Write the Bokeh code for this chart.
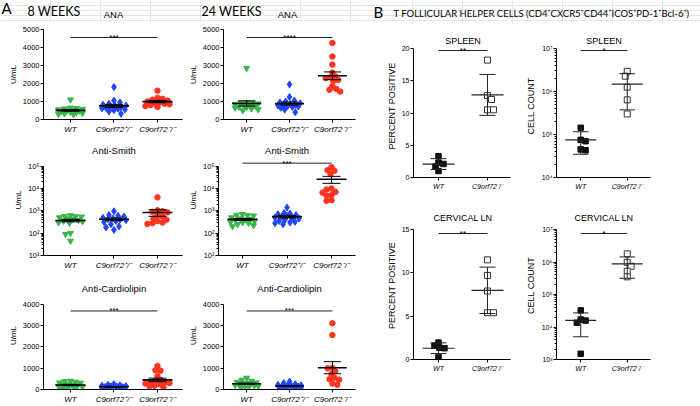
import numpy as np
from bokeh.plotting import figure
from bokeh.models import Range1d, FixedTicker, CustomJSTickFormatter, Label
from bokeh.layouts import row, column
from bokeh.embed import file_html
from bokeh.resources import INLINE

# ------------------------------------------------------------------ data
groups_a = ["WT", "C9orf72\u207a/\u207b", "C9orf72\u207b/\u207b"]
groups_b = ["WT", "C9orf72\u207b/\u207b"]

# 8 weeks ANA (U/mL)
ana8_wt = [1100, 650, 620, 600, 580, 550, 520, 500, 480, 450, 420, 400, 350, 330, 300, 280]
ana8_het = [1800, 1050, 950, 870, 820, 780, 750, 700, 680, 650, 620, 600, 560, 520, 450, 320]
ana8_ko = [1600, 1200, 1150, 1100, 1050, 1000, 950, 900, 880, 850, 800, 750, 700]
# 24 weeks ANA
ana24_wt = [2850, 950, 920, 900, 880, 850, 800, 780, 750, 700, 680, 650, 600, 550, 500]
ana24_het = [1950, 1250, 1050, 1000, 950, 900, 850, 820, 800, 780, 750, 720, 700, 650, 550, 400]
ana24_ko = [4250, 3500, 3050, 2600, 2400, 2350, 2300, 2200, 2150, 1850, 1700, 1650, 1550]
# 8 weeks Anti-Smith
smith8_wt = [620, 580, 560, 540, 500, 450, 420, 380, 350, 330, 300, 280, 100, 90, 45]
smith8_het = [950, 650, 600, 550, 480, 450, 420, 400, 380, 350, 320, 250, 200, 180, 140]
smith8_ko = [4000, 1050, 950, 900, 850, 600, 550, 450, 400, 350, 300, 280, 260]
# 24 weeks Anti-Smith
smith24_wt = [700, 650, 620, 600, 500, 450, 420, 400, 380, 350, 320, 300, 280, 250, 220, 200]
smith24_het = [1400, 800, 750, 700, 650, 600, 550, 500, 480, 450, 400, 350, 320, 300, 280, 250]
smith24_ko = [90000, 65000, 62000, 45000, 10000, 9000, 7000, 6500, 5000, 4800, 3000, 2800]
# 8 weeks Anti-Cardiolipin
card8_wt = [400, 380, 350, 320, 300, 250, 220, 200, 180, 150, 120, 100, 80, 60, 50]
card8_het = [250, 220, 200, 180, 160, 150, 130, 120, 110, 100, 90, 80, 70, 60, 50]
card8_ko = [1100, 900, 880, 620, 450, 400, 350, 320, 300, 280, 250, 180, 150, 100]
# 24 weeks Anti-Cardiolipin
card24_wt = [540, 450, 400, 350, 320, 300, 280, 250, 230, 200, 180, 160, 140, 120, 100]
card24_het = [370, 300, 250, 220, 200, 180, 160, 150, 140, 130, 120, 110, 100, 90, 80, 70]
card24_ko = [3100, 2550, 1020, 990, 850, 720, 550, 480, 460, 280, 220]

# T follicular helper cells
spleen_pct_wt = [3.3, 2.3, 2.1, 1.7, 1.0]
spleen_pct_ko = [18.2, 12.7, 12.1, 10.5, 10.5]
spleen_cnt_wt = [1.43e5, 7.5e4, 7.0e4, 4.5e4, 4.3e4]
spleen_cnt_ko = [2.95e6, 2.27e6, 1.26e6, 6.4e5, 3.0e5]
cerv_pct_wt = [1.95, 1.6, 1.35, 1.3, 0.3]
cerv_pct_ko = [11.5, 9.7, 7.9, 5.4, 5.4]
cerv_cnt_wt = [3.25e4, 1.7e4, 1.58e4, 1.35e4, 1.5e3]
cerv_cnt_ko = [1.78e6, 9.8e5, 7.4e5, 5.2e5, 3.5e5]

ana_ticks = [0, 1000, 2000, 3000, 4000, 5000]
card_ticks = [0, 1000, 2000, 3000, 4000]
smith_ticks = [10, 100, 1000, 10000, 100000]
spleen_pct_ticks = [0, 5, 10, 15, 20]
cerv_pct_ticks = [0, 5, 10, 15]
spleen_cnt_ticks = [1e4, 1e5, 1e6, 1e7]
cerv_cnt_ticks = [1e3, 1e4, 1e5, 1e6, 1e7]

# ------------------------------------------------------------------ style
SANS = "Liberation Sans"
HEAD = "Lato"
GREEN = "#3ab54a"
BLUE = "#1f46ff"
RED = "#ff3420"

LOGFMT = """
const sup = ['\u2070','\u00b9','\u00b2','\u00b3','\u2074','\u2075','\u2076','\u2077','\u2078','\u2079'];
const e = Math.round(Math.log10(tick));
return '10' + String(e).split('').map(d => sup[parseInt(d)]).join('');
"""
CATFMT = "const i = Math.round(tick); return (i >= 0 && i < labels.length) ? labels[i] : '';"


class Panel:
    def __init__(self, ox, oy, w, h, fl, ft, fw, fh, xr, yr, ylog=False):
        self.left = ox + fl
        self.top = oy + ft
        self.fw, self.fh = fw, fh
        self.xr, self.yr, self.ylog = xr, yr, ylog
        p = figure(width=w, height=h, x_range=Range1d(*xr), y_range=Range1d(*yr),
                   y_axis_type="log" if ylog else "linear",
                   output_backend="svg", toolbar_location=None, title=None,
                   min_border_left=fl, min_border_right=w - fl - fw,
                   min_border_top=ft, min_border_bottom=h - ft - fh)
        p.outline_line_color = None
        p.xgrid.visible = False
        p.ygrid.visible = False
        p.background_fill_color = "white"
        p.border_fill_color = "white"
        self.p = p

    @property
    def ppc(self):
        return self.fw / (self.xr[1] - self.xr[0])

    def yd(self, py):
        f = (py - self.top) / self.fh
        if self.ylog:
            a, b = np.log10(self.yr[0]), np.log10(self.yr[1])
            return 10 ** (b - f * (b - a))
        return self.yr[1] - f * (self.yr[1] - self.yr[0])

    def ypx(self, v):
        v = np.asarray(v, float)
        if self.ylog:
            a, b = np.log10(self.yr[0]), np.log10(self.yr[1])
            f = (b - np.log10(v)) / (b - a)
        else:
            f = (self.yr[1] - v) / (self.yr[1] - self.yr[0])
        return self.top + f * self.fh


def axes(pn, labels, yticks, ylabel, tick_fs, x_fs, ylab_fs, ylab_standoff, bounds=None, minor=None):
    p = pn.p
    xa, ya = p.xaxis[0], p.yaxis[0]
    xa.ticker = FixedTicker(ticks=list(range(len(labels))))
    xa.formatter = CustomJSTickFormatter(args=dict(labels=labels), code=CATFMT)
    for a in (xa, ya):
        a.axis_line_color = "black"
        a.axis_line_width = 1
        a.major_tick_line_color = "black"
        a.minor_tick_line_color = "black"
        a.major_tick_in = 0
        a.major_tick_out = 3
        a.minor_tick_in = 0
        a.minor_tick_out = 0
        a.major_label_text_font = SANS
        a.major_label_text_color = "black"
    xa.major_label_text_font_size = f"{x_fs}px"
    xa.major_label_text_font_style = "italic"
    xa.major_label_standoff = 2
    ya.major_label_text_font_size = f"{tick_fs}px"
    ya.major_label_standoff = 1
    if pn.ylog:
        ya.ticker = FixedTicker(ticks=yticks, minor_ticks=minor or [])
        ya.formatter = CustomJSTickFormatter(code=LOGFMT)
        ya.minor_tick_out = 2
    else:
        ya.ticker = FixedTicker(ticks=yticks)
    if bounds is not None:
        ya.bounds = bounds
    ya.axis_label = ylabel
    ya.axis_label_text_font = SANS
    ya.axis_label_text_font_size = f"{ylab_fs}px"
    ya.axis_label_text_font_style = "normal"
    ya.axis_label_text_color = "black"
    ya.axis_label_standoff = ylab_standoff


def swarm(ypx, dist, maxw, step=1.0):
    ypx = np.asarray(ypx, float)
    order = np.argsort(ypx)
    base = [0.0]
    j = 1
    while j * step <= maxw:
        base += [j * step, -j * step]
        j += 1
    placed = []
    offs = np.zeros(len(ypx))
    for n, i in enumerate(order):
        sgn = 1 if n % 2 == 0 else -1
        best, bestd = 0.0, -1.0
        for c in base:
            c = c * sgn
            d = min([np.hypot(c - ox, ypx[i] - oy) for ox, oy in placed], default=1e9)
            if d >= dist:
                best = c
                break
            if d > bestd:
                best, bestd = c, d
        offs[i] = best
        placed.append((best, ypx[i]))
    return offs


def group(pn, i, vals, marker, size, fill, line=None, lw=1.0, err="sem", maxw=12,
          mean_hw=15, cap_hw=9, mean_lw=1.6, bar_color="black", bar_lw=1.0):
    p = pn.p
    vals = np.asarray(vals, float)
    offs = swarm(pn.ypx(vals), size * 0.85, maxw) / pn.ppc
    p.scatter(x=i + offs, y=vals, marker=marker, size=size, fill_color=fill,
              line_color=line or fill, line_width=lw)
    m = vals.mean()
    sd = vals.std(ddof=1)
    e = sd / np.sqrt(len(vals)) if err == "sem" else sd
    hw, cw = mean_hw / pn.ppc, cap_hw / pn.ppc
    p.segment(x0=[i - hw], x1=[i + hw], y0=[m], y1=[m], line_color=bar_color, line_width=mean_lw)
    p.segment(x0=[i, i - cw, i - cw], x1=[i, i + cw, i + cw],
              y0=[m - e, m + e, m - e], y1=[m + e, m + e, m - e],
              line_color=bar_color, line_width=bar_lw)


def text(p, x, y, s, size, font=SANS, align="center", baseline="middle"):
    p.add_layout(Label(x=x, y=y, text=s, text_font=font, text_font_size=f"{size}px",
                       text_align=align, text_baseline=baseline, text_color="black"))


def sig(pn, py, s, x0, x1, fs=8, color="#222222"):
    v = pn.yd(py)
    pn.p.segment(x0=[x0], x1=[x1], y0=[v], y1=[v], line_color=color, line_width=1)
    text(pn.p, (x0 + x1) / 2, v, s, fs, baseline="alphabetic")


def minor_log(e0, e1):
    return [m * 10.0 ** e for e in range(e0, e1) for m in range(2, 10)]


def header(w, h):
    f = figure(width=w, height=h, x_range=Range1d(0, w), y_range=Range1d(h, 0),
               output_backend="svg", toolbar_location=None, title=None,
               x_axis_location=None, y_axis_location=None,
               min_border_left=0, min_border_right=0, min_border_top=0, min_border_bottom=0)
    f.outline_line_color = None
    f.background_fill_color = "white"
    f.border_fill_color = "white"
    return f


# ------------------------------------------------------------------ panel A
XR1 = (-0.62, 2.575)
XR2 = (-0.54, 2.539)

hdr_a = header(362, 22)
text(hdr_a, 1, 7.5, "A", 15, font=HEAD, align="left")
text(hdr_a, 27, 10.5, "8 WEEKS", 12.5, font=HEAD, align="left")
text(hdr_a, 201, 10.5, "24 WEEKS", 12.5, font=HEAD, align="left")
text(hdr_a, 113, 13.5, "ANA", 9.5)
text(hdr_a, 287, 13.5, "ANA", 9.5)

p1 = Panel(0, 22, 185, 114, 43, 7, 139, 90, XR1, (0, 5000))
p2 = Panel(185, 22, 177, 114, 33, 7, 137, 90, XR2, (0, 5000))
p3 = Panel(0, 136, 185, 136, 43, 8, 139, 113, XR1, (10, 10 ** (1 + 113 / 22.75)), ylog=True)
p4 = Panel(185, 136, 177, 136, 33, 8, 137, 113, XR2, (10, 10 ** (1 + 113 / 22.75)), ylog=True)
p5 = Panel(0, 272, 185, 134, 43, 9, 139, 110, XR1, (0, 4000 * 110 / 87))
p6 = Panel(185, 272, 177, 134, 33, 9, 137, 110, XR2, (0, 4000 * 110 / 87))

for pn in (p1, p2):
    axes(pn, groups_a, ana_ticks, "U/mL", 7.5, 8, 8, 2)
for pn in (p3, p4):
    axes(pn, groups_a, smith_ticks, "U/mL", 7.5, 8, 8, 2, bounds=(10, 1e5), minor=minor_log(1, 5))
for pn in (p5, p6):
    axes(pn, groups_a, card_ticks, "U/mL", 7.5, 8, 8, 2, bounds=(0, 4000))

series = [
    (p1, ana8_wt, ana8_het, ana8_ko),
    (p2, ana24_wt, ana24_het, ana24_ko),
    (p3, smith8_wt, smith8_het, smith8_ko),
    (p4, smith24_wt, smith24_het, smith24_ko),
    (p5, card8_wt, card8_het, card8_ko),
    (p6, card24_wt, card24_het, card24_ko),
]
for pn, wt, het, ko in series:
    group(pn, 0, wt, "inverted_triangle", 6, GREEN)
    group(pn, 1, het, "diamond", 7, BLUE)
    group(pn, 2, ko, "circle", 5.5, RED)

text(p3.p, 1, p3.yd(150), "Anti-Smith", 9.5)
text(p4.p, 1, p4.yd(150), "Anti-Smith", 9.5)
text(p5.p, 1, p5.yd(288), "Anti-Cardiolipin", 9.5)
text(p6.p, 1, p6.yd(288), "Anti-Cardiolipin", 9.5)

sig(p1, 37, "***", 0, 2)
sig(p2, 37, "****", 0, 2)
sig(p4, 163, "***", 0, 2)
sig(p5, 311, "***", 0, 2)
sig(p6, 311, "***", 0, 2)

# ------------------------------------------------------------------ panel B
hdr_b = header(338, 24)
text(hdr_b, 11, 11.5, "B", 15, font=HEAD, align="left")
text(hdr_b, 31, 12.5,
     "T FOLLICULAR HELPER CELLS (CD4\u207aCXCR5\u207aCD44\u207aICOS\u207aPD-1\u207aBcl-6\u207a)",
     9.5, font=HEAD, align="left")

XRB1 = (-0.51, 1.47)
XRB2 = (-0.521, 1.50)
sp_pct = Panel(362, 24, 160, 176, 51, 10, 97, 143, XRB1, (0, 143 / 6.45))
sp_cnt = Panel(522, 24, 178, 176, 31, 10, 97, 143, XRB2, (1e4, 10 ** (4 + 143 / 43)), ylog=True)
cv_pct = Panel(362, 200, 160, 206, 51, 11, 97, 148, XRB1, (0, 148 / 8.667))
cv_cnt = Panel(522, 200, 178, 206, 31, 11, 97, 148, XRB2, (1e3, 10 ** (3 + 148 / 32.5)), ylog=True)

axes(sp_pct, groups_b, spleen_pct_ticks, "PERCENT POSITIVE", 7, 7, 9, 2, bounds=(0, 20))
axes(sp_cnt, groups_b, spleen_cnt_ticks, "CELL COUNT", 7, 7, 9, 3, bounds=(1e4, 1e7), minor=minor_log(4, 7))
axes(cv_pct, groups_b, cerv_pct_ticks, "PERCENT POSITIVE", 7, 7, 9, 2, bounds=(0, 15))
axes(cv_cnt, groups_b, cerv_cnt_ticks, "CELL COUNT", 7, 7, 9, 3, bounds=(1e3, 1e7), minor=minor_log(3, 7))

for pn, wt, ko in ((sp_pct, spleen_pct_wt, spleen_pct_ko), (sp_cnt, spleen_cnt_wt, spleen_cnt_ko),
                   (cv_pct, cerv_pct_wt, cerv_pct_ko), (cv_cnt, cerv_cnt_wt, cerv_cnt_ko)):
    group(pn, 0, wt, "square", 5.5, "#111111", err="sd", maxw=8, mean_hw=16, cap_hw=8,
          mean_lw=1.2, bar_color="#222222")
    group(pn, 1, ko, "square", 6, "white", line="#333333", lw=1, err="sd", maxw=8,
          mean_hw=16, cap_hw=8, mean_lw=1.2, bar_color="#222222")

text(sp_pct.p, 0.5, sp_pct.yd(40), "SPLEEN", 9)
text(sp_cnt.p, 0.5, sp_cnt.yd(40), "SPLEEN", 9)
text(cv_pct.p, 0.5, cv_pct.yd(217), "CERVICAL LN", 9)
text(cv_cnt.p, 0.5, cv_cnt.yd(217), "CERVICAL LN", 9)
sig(sp_pct, 50, "**", 0, 1)
sig(sp_cnt, 50, "*", 0, 1)
sig(cv_pct, 233, "**", 0, 1)
sig(cv_cnt, 233, "*", 0, 1)

# ------------------------------------------------------------------ layout
left = column(hdr_a, row(p1.p, p2.p), row(p3.p, p4.p), row(p5.p, p6.p))
right = column(hdr_b, row(sp_pct.p, sp_cnt.p), row(cv_pct.p, cv_cnt.p))
layout = row(left, right)

open("out.html", "w", encoding="utf-8").write(file_html(layout, INLINE))
